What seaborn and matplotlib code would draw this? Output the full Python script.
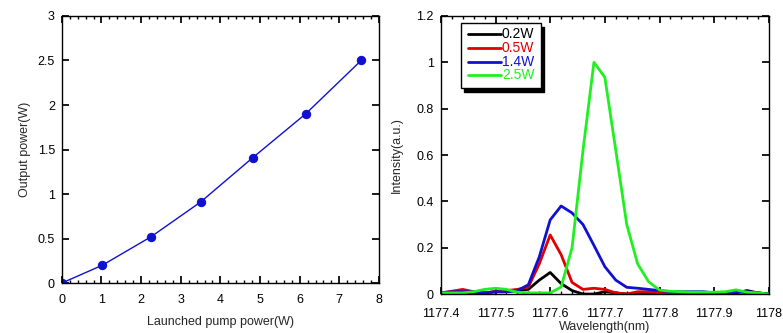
import numpy as np
import pandas as pd
import seaborn as sns
import matplotlib.pyplot as plt
from matplotlib.ticker import MultipleLocator, FixedLocator, FormatStrFormatter
from matplotlib.patches import Rectangle

# left panel: output vs launched pump power
pump_w = [0, 1.02, 2.25, 3.5, 4.82, 6.15, 7.55]
output_w = [0, 0.2, 0.52, 0.91, 1.41, 1.9, 2.5]

# right panel: spectra
wavelength = [1177.40, 1177.42, 1177.44, 1177.46, 1177.48, 1177.50, 1177.52, 1177.54,
              1177.56, 1177.58, 1177.60, 1177.62, 1177.64, 1177.66, 1177.68, 1177.70,
              1177.72, 1177.74, 1177.76, 1177.78, 1177.80, 1177.82, 1177.84, 1177.86,
              1177.88, 1177.90, 1177.92, 1177.94, 1177.96, 1177.98, 1178.00]
spec_02 = [0.005, 0.005, 0.005, 0.005, 0.005, 0.01, 0.01, 0.015,
           0.02, 0.06, 0.093, 0.045, 0.015, 0.0, 0.0, 0.01,
           0.005, 0.0, 0.005, 0.005, 0.005, 0.005, 0.005, 0.005,
           0.005, 0.005, 0.005, 0.005, 0.015, 0.005, 0.0]
spec_05 = [0.005, 0.012, 0.02, 0.01, 0.005, 0.01, 0.015, 0.02,
           0.03, 0.13, 0.255, 0.17, 0.05, 0.02, 0.025, 0.02,
           0.005, 0.0, 0.01, 0.01, 0.005, 0.005, 0.005, 0.005,
           0.005, 0.005, 0.005, 0.01, 0.005, 0.005, 0.0]
spec_14 = [0.005, 0.01, 0.01, 0.01, 0.005, 0.01, 0.01, 0.015,
           0.04, 0.16, 0.32, 0.38, 0.35, 0.30, 0.21, 0.118,
           0.06, 0.029, 0.025, 0.02, 0.015, 0.01, 0.01, 0.01,
           0.01, 0.005, 0.005, 0.01, 0.01, 0.005, 0.0]
spec_25 = [0.005, 0.005, 0.005, 0.01, 0.02, 0.025, 0.02, 0.008,
           0.005, 0.005, 0.005, 0.03, 0.2, 0.62, 1.0, 0.935,
           0.62, 0.3, 0.13, 0.053, 0.017, 0.012, 0.01, 0.008,
           0.008, 0.008, 0.01, 0.018, 0.008, 0.005, 0.0]
labels = ["0.2W", "0.5W", "1.4W", "2.5W"]
colors = ["#000000", "#e00000", "#1010d0", "#20f020"]
wl_ticks = [1177.4, 1177.5, 1177.6, 1177.7, 1177.8, 1177.9, 1178.0]
wl_ticklabels = ["1177.4", "1177.5", "1177.6", "1177.7", "1177.8", "1177.9", "1178"]

sns.set_theme(style="ticks")
plt.rcParams['font.family'] = ['Liberation Sans', 'DejaVu Sans']
plt.rcParams['font.size'] = 9

fig = plt.figure(figsize=(7.83, 3.33), dpi=100)
ax1 = fig.add_axes([0.079, 0.150, 0.405, 0.802])
ax2 = fig.add_axes([0.563, 0.117, 0.419, 0.835])

sns.lineplot(x=pump_w, y=output_w, ax=ax1, color="#1010d0", lw=1,
             marker="o", markersize=6, markeredgecolor="#1010d0")
ax1.set_xlim(0, 8)
ax1.set_ylim(0, 3)
ax1.xaxis.set_major_locator(MultipleLocator(1))
ax1.xaxis.set_minor_locator(MultipleLocator(0.2))
ax1.yaxis.set_major_locator(MultipleLocator(0.5))
ax1.yaxis.set_major_formatter(FormatStrFormatter("%g"))
ax1.set_xlabel("Launched pump power(W)", fontsize=9, labelpad=7)
ax1.set_ylabel("Output power(W)", fontsize=9, labelpad=5)

df = pd.DataFrame({"wl": wavelength * 4,
                   "I": spec_02 + spec_05 + spec_14 + spec_25,
                   "P": sum([[l] * len(wavelength) for l in labels], [])})
sns.lineplot(data=df, x="wl", y="I", hue="P", palette=colors, lw=2, ax=ax2,
             legend=False)
ax2.set_xlim(1177.4, 1178)
ax2.set_ylim(0, 1.2)
ax2.xaxis.set_major_locator(FixedLocator(wl_ticks))
ax2.set_xticklabels(wl_ticklabels)
ax2.xaxis.set_minor_locator(FixedLocator(np.arange(1177.4, 1178.001, 0.02)))
ax2.yaxis.set_major_locator(MultipleLocator(0.2))
ax2.yaxis.set_major_formatter(FormatStrFormatter("%g"))
ax2.set_xlabel("Wavelength(nm)", fontsize=9, labelpad=1)
ax2.set_ylabel("Intensity(a.u.)", fontsize=9, labelpad=10)

for ax in (ax1, ax2):
    for s in ax.spines.values():
        s.set_linewidth(1)
        s.set_color("black")
    ax.tick_params(which="both", direction="in", top=True, right=True,
                   labelsize=9, colors="black", pad=5)
    ax.tick_params(which="major", length=5)
    ax.tick_params(which="minor", length=2.5)
ax1.tick_params(axis="x", which="major", pad=8)
ax2.tick_params(axis="x", which="major", pad=10)

# legend with shadow box
ax2.add_patch(Rectangle((0.070, 0.728), 0.244, 0.234, transform=ax2.transAxes,
                        facecolor="black", edgecolor="black", zorder=4))
ax2.add_patch(Rectangle((0.061, 0.741), 0.244, 0.234, transform=ax2.transAxes,
                        facecolor="white", edgecolor="black", lw=1, zorder=5))
for yy, lab, c in zip([0.935, 0.884, 0.835, 0.786], labels, colors):
    ax2.plot([0.082, 0.183], [yy, yy], color=c, lw=2, transform=ax2.transAxes, zorder=6)
    ax2.text(0.186, yy, lab, color=c, fontsize=10, va="center", ha="left",
             transform=ax2.transAxes, zorder=6)

fig.savefig("out.png", dpi=100)
